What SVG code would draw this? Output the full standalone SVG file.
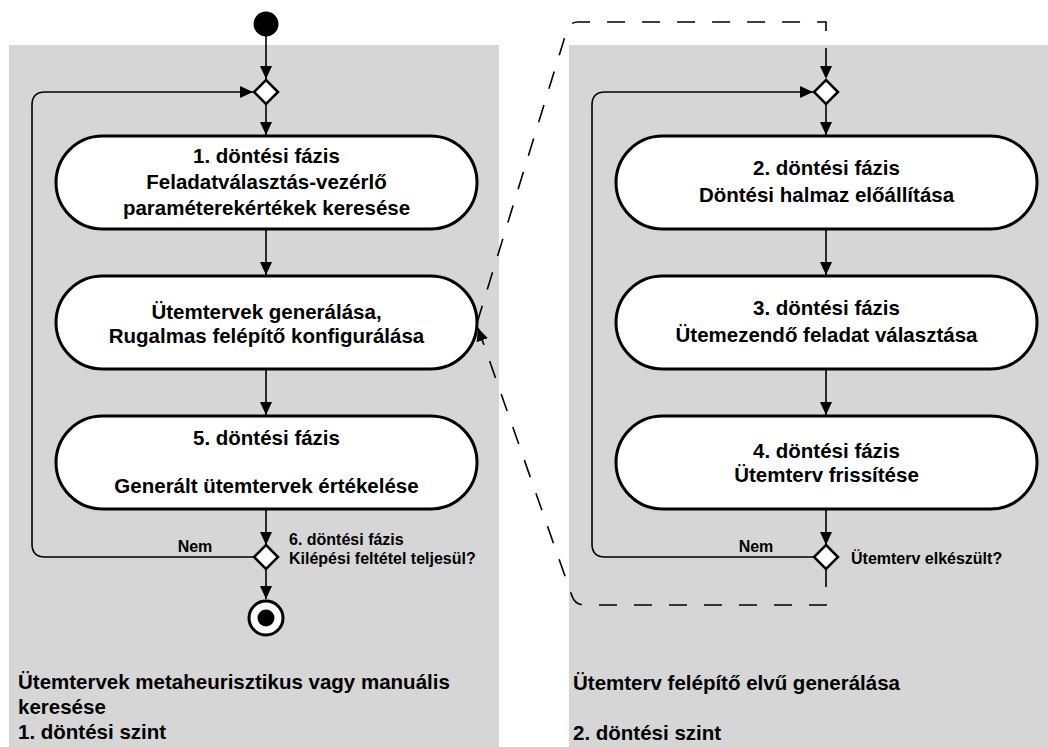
<svg xmlns="http://www.w3.org/2000/svg" width="1048" height="747" viewBox="0 0 1048 747">
<style>
.lane{fill:#d6d6d6;stroke:none}
.pill{fill:#fff;stroke:#000;stroke-width:3}
.dia{fill:#fff;stroke:#000;stroke-width:2.5}
.t{font-family:"Liberation Sans",Arial,sans-serif;font-weight:bold;font-size:20.5px;fill:#000;text-anchor:middle}
.lt{font-family:"Liberation Sans",Arial,sans-serif;font-weight:bold;font-size:20.5px;fill:#000}
.s{font-family:"Liberation Sans",Arial,sans-serif;font-weight:bold;font-size:16px;fill:#000}
.c{fill:none;stroke:#000;stroke-width:1.6}
.d{fill:none;stroke:#000;stroke-width:1.6;stroke-dasharray:18 17}
</style>
<defs>
<marker id="ah" viewBox="0 0 13 12" refX="13" refY="6" markerWidth="13" markerHeight="12" markerUnits="userSpaceOnUse" orient="auto">
<path d="M0,0 L13,6 L0,12 z" fill="#000"/>
</marker>
</defs>
<g id="lanes">
<rect class="lane" x="9" y="45" width="490" height="702"/>
<rect class="lane" x="569" y="45" width="479" height="702"/>
<text class="lt" x="18" y="689">Ütemtervek metaheurisztikus vagy manuális</text>
<text class="lt" x="18" y="714">keresése</text>
<text class="lt" x="18" y="739">1. döntési szint</text>
<text class="lt" x="573" y="690">Ütemterv felépítő elvű generálása</text>
<text class="lt" x="573" y="740">2. döntési szint</text>
</g>
<g id="connectors">
<path class="c" d="M266,36 L266,79" marker-end="url(#ah)"/>
<path class="c" d="M266,104 L266,135" marker-end="url(#ah)"/>
<path class="c" d="M266,229 L266,275" marker-end="url(#ah)"/>
<path class="c" d="M266,369 L266,415" marker-end="url(#ah)"/>
<path class="c" d="M266,509 L266,545" marker-end="url(#ah)"/>
<path class="c" d="M266,569 L266,599" marker-end="url(#ah)"/>
<path class="c" d="M254,557 L45,557 Q32,557 32,544 L32,105 Q32,92 45,92 L253,92" marker-end="url(#ah)"/>
<path class="c" d="M826,104 L826,135" marker-end="url(#ah)"/>
<path class="c" d="M826,229 L826,275" marker-end="url(#ah)"/>
<path class="c" d="M826,369 L826,415" marker-end="url(#ah)"/>
<path class="c" d="M826,509 L826,545" marker-end="url(#ah)"/>
<path class="c" d="M814,557 L605,557 Q592,557 592,544 L592,105 Q592,92 605,92 L813,92" marker-end="url(#ah)"/>
<path class="d" d="M477,323 L567,30 Q570,22 578,22 L826,22 L826,79" marker-end="url(#ah)"/>
<path class="d" d="M826,569 L826,605 L585,605 Q575,605 572,596 L478,328" marker-end="url(#ah)"/>
<text class="s" x="195" y="552" text-anchor="middle">Nem</text>
<text class="s" x="756" y="552" text-anchor="middle">Nem</text>
</g>
<g id="start"><circle cx="266" cy="24" r="12.5" fill="#000"/></g>
<g id="merge1"><path class="dia" d="M266,80 L278,92 L266,104 L254,92 z"/></g>
<g id="phase1">
<rect class="pill" x="56" y="136" width="421" height="93" rx="46.5"/>
<text class="t" x="266.5" y="163">1. döntési fázis</text>
<text class="t" x="266.5" y="189">Feladatválasztás-vezérlő</text>
<text class="t" x="266.5" y="215">paraméterekértékek keresése</text>
</g>
<g id="generate">
<rect class="pill" x="56" y="276" width="421" height="93" rx="46.5"/>
<text class="t" x="266.5" y="319">Ütemtervek generálása,</text>
<text class="t" x="266.5" y="343">Rugalmas felépítő konfigurálása</text>
</g>
<g id="phase5">
<rect class="pill" x="56" y="416" width="421" height="93" rx="46.5"/>
<text class="t" x="266.5" y="445">5. döntési fázis</text>
<text class="t" x="266.5" y="493">Generált ütemtervek értékelése</text>
</g>
<g id="decision6">
<path class="dia" d="M266,545 L278,557 L266,569 L254,557 z"/>
<text class="s" x="289" y="545">6. döntési fázis</text>
<text class="s" x="289" y="564">Kilépési feltétel teljesül?</text>
</g>
<g id="end">
<circle cx="266" cy="618" r="17" fill="#fff" stroke="#000" stroke-width="3"/>
<circle cx="266" cy="618" r="8.5" fill="#000"/>
</g>
<g id="merge2"><path class="dia" d="M826,80 L838,92 L826,104 L814,92 z"/></g>
<g id="phase2">
<rect class="pill" x="616" y="136" width="421" height="93" rx="46.5"/>
<text class="t" x="826.5" y="175">2. döntési fázis</text>
<text class="t" x="826.5" y="202">Döntési halmaz előállítása</text>
</g>
<g id="phase3">
<rect class="pill" x="616" y="276" width="421" height="93" rx="46.5"/>
<text class="t" x="826.5" y="315">3. döntési fázis</text>
<text class="t" x="826.5" y="342">Ütemezendő feladat választása</text>
</g>
<g id="phase4">
<rect class="pill" x="616" y="416" width="421" height="93" rx="46.5"/>
<text class="t" x="826.5" y="458">4. döntési fázis</text>
<text class="t" x="826.5" y="482">Ütemterv frissítése</text>
</g>
<g id="decision-done">
<path class="dia" d="M826,545 L838,557 L826,569 L814,557 z"/>
<text class="s" x="851" y="564">Ütemterv elkészült?</text>
</g>
</svg>
